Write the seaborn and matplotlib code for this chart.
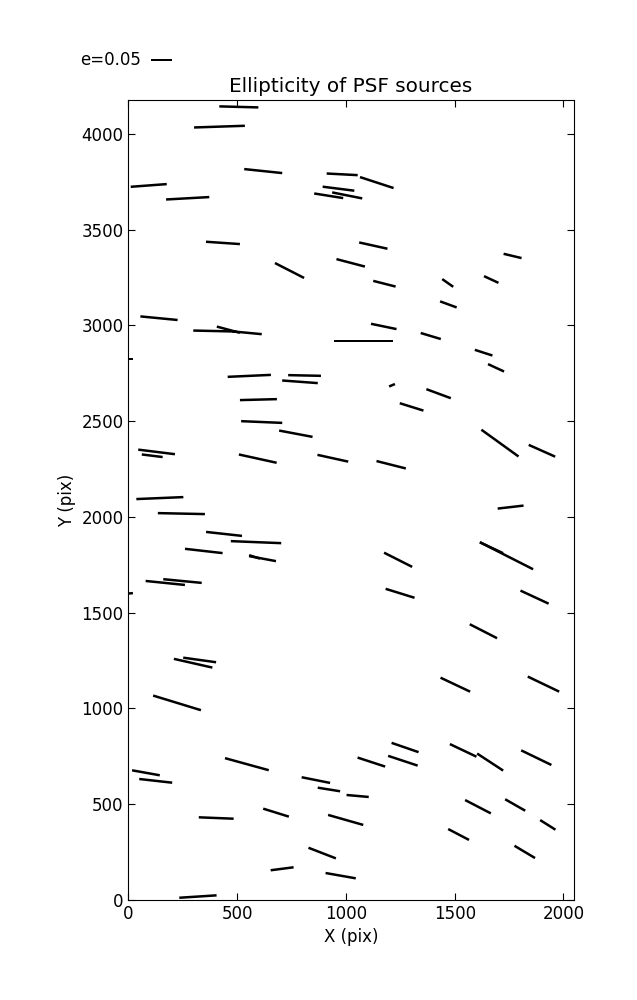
import numpy as np
import matplotlib
matplotlib.use('Agg')
import matplotlib.pyplot as plt
import seaborn as sns

# PSF star positions on the chip (pix) and their ellipticity / position angle
x_pos = [508, 419, 620, 983, 1142, 94, 273, 966, 921, 1006,
         435, 741, 1022, 1126, 1766, 1177, 1468, 1668, 1471, 141,
         397, 460, 545, 1174, 1082, 1390, 1633, 1690, 2, 556,
         810, 789, 598, 613, 770, 130, 110, 595, 940, 145,
         244, 440, 587, 347, 617, 580, 170, 249, 2, 1212,
         1426, 1302, 1708, 1901, 1208, 1757, 1738, 1669, 1240, 1249,
         1867, 1632, 298, 328, 224, 545, 81, 126, 862, 922,
         1054, 679, 999, 404, 891, 707, 976, 320, 1503, 1908,
         1272, 1262, 1117, 1539, 1663, 1875, 1607, 1778, 1928, 1518,
         1822]
y_pos = [4140, 4037, 3805, 3788, 3745, 3730, 3663, 3713, 3676, 3678,
         3430, 3286, 3326, 3416, 3362, 3217, 3221, 3239, 3109, 3037,
         2970, 2977, 2961, 2994, 2919, 2944, 2857, 2778, 2823, 2736,
         2738, 2705, 2612, 2495, 2434, 2339, 2319, 2304, 2306, 2098,
         2017, 1911, 1868, 1822, 1782, 1791, 1655, 1665, 1600, 2687,
         2643, 2574, 2385, 2345, 2272, 2051, 1797, 1839, 1776, 1601,
         1581, 1403, 1236, 1253, 1029, 709, 664, 622, 626, 577,
         543, 456, 418, 428, 245, 163, 127, 18, 1124, 1127,
         796, 727, 720, 781, 720, 743, 487, 496, 392, 342,
         251]
ellip = [0.093, 0.121, 0.091, 0.074, 0.084, 0.086, 0.103, 0.076, 0.070, 0.073,
         0.081, 0.078, 0.070, 0.069, 0.044, 0.055, 0.032, 0.038, 0.042, 0.089,
         0.102, 0.057, 0.071, 0.062, 0.140, 0.050, 0.044, 0.042, 0.021, 0.103,
         0.078, 0.085, 0.088, 0.098, 0.081, 0.088, 0.050, 0.092, 0.075, 0.112,
         0.112, 0.086, 0.120, 0.090, 0.065, 0.027, 0.094, 0.092, 0.020, 0.015,
         0.062, 0.059, 0.109, 0.069, 0.072, 0.062, 0.142, 0.061, 0.075, 0.072,
         0.074, 0.073, 0.094, 0.079, 0.119, 0.108, 0.067, 0.079, 0.069, 0.054,
         0.053, 0.064, 0.087, 0.083, 0.070, 0.055, 0.073, 0.089, 0.078, 0.083,
         0.068, 0.074, 0.069, 0.070, 0.074, 0.080, 0.069, 0.055, 0.043, 0.056,
         0.057]
theta_deg = [-1.5, 1.9, -6.0, -3.0, -18.1, 4.3, 3.2, -7.2, -9.0, -11.3,
             -3.9, -27.1, -14.7, -12.5, -13.4, -14.3, -35.0, -24.9, -20.1, -5.5,
             -1.3, -15.1, -5.4, -11.7, 0.0, -16.7, -17.9, -24.8, 0.0, 2.6,
             -1.2, -4.2, 1.5, -2.4, -10.7, -7.1, -7.1, -12.4, -12.4, 2.4,
             -1.2, -6.3, -2.3, -6.5, -10.6, -17.6, -5.8, -5.5, 5.0, 22.8,
             -20.3, -17.3, -35.8, -24.0, -14.2, 6.6, -26.9, -25.3, -26.8, -17.2,
             -24.9, -27.1, -12.8, -7.9, -17.0, -15.4, -10.2, -6.4, -11.3, -9.1,
             -5.1, -17.3, -15.9, -2.3, -21.2, 7.4, -10.0, 3.7, -25.3, -25.6,
             -19.0, -18.3, -18.1, -25.4, -33.2, -25.8, -27.4, -29.7, -32.2, -27.6,
             -30.8]

key_e = 0.05

sns.set_style('ticks', {'xtick.direction': 'in', 'ytick.direction': 'in',
                        'xtick.top': True, 'ytick.right': True,
                        'axes.edgecolor': 'black', 'axes.linewidth': 1.0,
                        'text.color': 'black', 'axes.labelcolor': 'black',
                        'xtick.color': 'black', 'ytick.color': 'black'})
plt.rcParams['font.family'] = ['DejaVu Sans']
plt.rcParams['font.size'] = 12
plt.rcParams['xtick.labelsize'] = 12
plt.rcParams['ytick.labelsize'] = 12
plt.rcParams['xtick.major.size'] = 5
plt.rcParams['ytick.major.size'] = 5

fig = plt.figure(figsize=(6.37, 10), dpi=100)
ax = fig.add_subplot(111)
fig.subplots_adjust(left=0.2014, right=0.901, bottom=0.1, top=0.9)

e = np.array(ellip)
th = np.deg2rad(theta_deg)
u = e * np.cos(th)
v = e * np.sin(th)

q = ax.quiver(x_pos, y_pos, u, v, angles='uv', pivot='middle',
              headwidth=0, headlength=0, headaxislength=0,
              scale_units='inches', scale=key_e / 0.21,
              width=0.0056, color='black')
# key: tail of the bar sits at X for labelpos='W'
ax.quiverkey(q, X=0.2366, Y=0.94, U=key_e, label='e=0.05', labelpos='W',
             coordinates='figure', fontproperties={'size': 12}, labelcolor='black')

ax.set_xlim(0, 2048)
ax.set_ylim(0, 4176)
ax.set_xticks([0, 500, 1000, 1500, 2000])
ax.set_yticks([0, 500, 1000, 1500, 2000, 2500, 3000, 3500, 4000])
ax.set_xlabel('X (pix)', fontsize=12)
ax.set_ylabel('Y (pix)', fontsize=12)
ax.set_title('Ellipticity of PSF sources', fontsize=14.4, color='black')

fig.savefig('out.png', dpi=100, facecolor='white')
